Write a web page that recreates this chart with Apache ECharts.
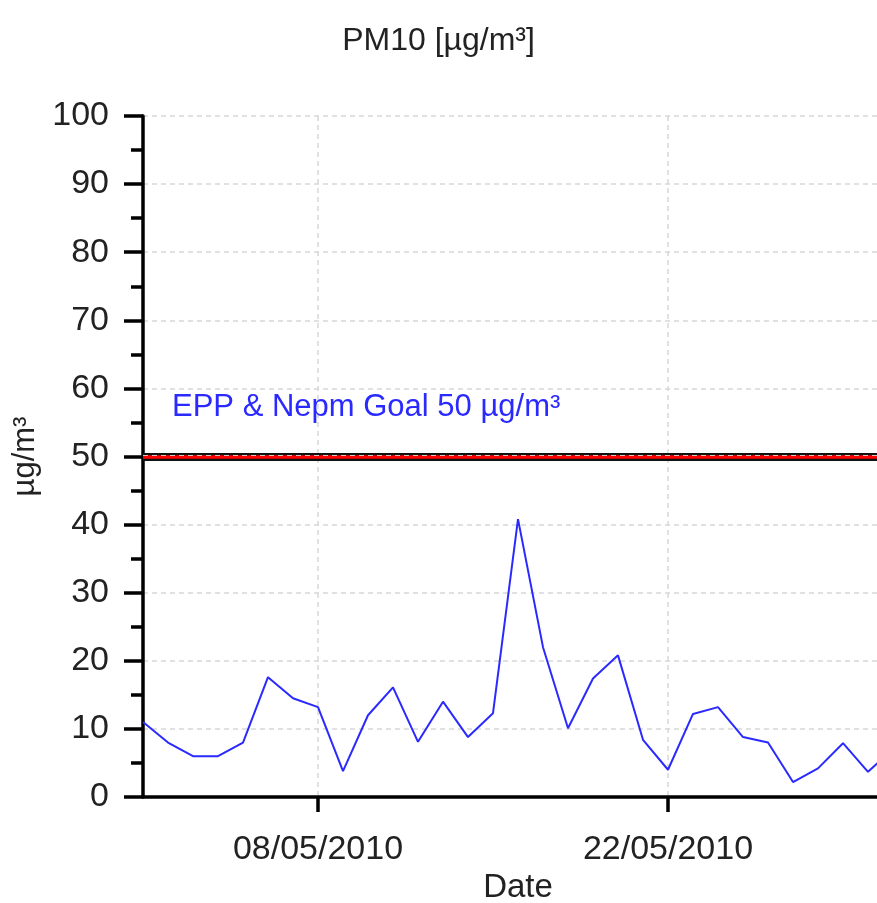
<!DOCTYPE html>
<html>
<head>
<meta charset="utf-8">
<script src="https://cdn.jsdelivr.net/npm/echarts@6/dist/echarts.min.js"></script>
<style>html,body{margin:0;padding:0;background:#fff;overflow:hidden;}#c{width:877px;height:903px;}</style>
</head>
<body>
<div id="c"></div>
<script>
const dates = ["01/05/2010","02/05/2010","03/05/2010","04/05/2010","05/05/2010","06/05/2010","07/05/2010","08/05/2010","09/05/2010","10/05/2010","11/05/2010","12/05/2010","13/05/2010","14/05/2010","15/05/2010","16/05/2010","17/05/2010","18/05/2010","19/05/2010","20/05/2010","21/05/2010","22/05/2010","23/05/2010","24/05/2010","25/05/2010","26/05/2010","27/05/2010","28/05/2010","29/05/2010","30/05/2010","31/05/2010"];
const pm10 = [11, 8, 6, 6, 8, 17.6, 14.5, 13.2, 3.8, 12, 16.1, 8.1, 14, 8.8, 12.3, 40.8, 22, 10.1, 17.4, 20.8, 8.4, 4.0, 12.2, 13.2, 8.8, 8, 2.2, 4.2, 7.9, 3.7, 7];
const shownDates = ["08/05/2010", "22/05/2010"];
const goalValue = 50;
const goalLabel = "EPP & Nepm Goal 50 µg/m³";
const yTicks = {min: 0, max: 100, interval: 10};

const font = "Liberation Sans, Arial, sans-serif";
const isShown = (i, v) => shownDates.indexOf(dates[i]) >= 0;
const chart = echarts.init(document.getElementById('c'));
chart.setOption({
  animation: false,
  backgroundColor: '#fff',
  title: {
    text: 'PM10 [µg/m³]', left: 'center', top: 20,
    textStyle: {fontFamily: font, fontWeight: 'normal', fontSize: 32, color: '#222'}
  },
  grid: {left: 143, top: 116, width: 750, bottom: 106, containLabel: false, outerBoundsMode: 'none'},
  xAxis: {
    type: 'category', data: dates, boundaryGap: false,
    name: 'Date', nameLocation: 'middle', nameGap: 74,
    nameTextStyle: {fontFamily: font, fontSize: 33, color: '#222'},
    axisLine: {lineStyle: {color: '#000', width: 3.5}},
    axisTick: {show: true, interval: isShown, length: 15, lineStyle: {color: '#000', width: 3.5}},
    axisLabel: {interval: isShown, margin: 36, fontFamily: font, fontSize: 34, color: '#222'},
    splitLine: {show: true, interval: isShown, lineStyle: {color: '#d8d8d8', type: [5, 4], width: 1.5}}
  },
  yAxis: {
    type: 'value', min: yTicks.min, max: yTicks.max, interval: yTicks.interval,
    name: 'µg/m³', nameLocation: 'middle', nameGap: 98, nameRotate: 90,
    nameTextStyle: {fontFamily: font, fontSize: 31, color: '#222'},
    axisLine: {show: true, lineStyle: {color: '#000', width: 3.5}},
    axisTick: {show: true, length: 19, lineStyle: {color: '#000', width: 3.5}},
    minorTick: {show: true, splitNumber: 2, length: 12, lineStyle: {color: '#000', width: 3.5}},
    axisLabel: {margin: 34, fontFamily: font, fontSize: 34, color: '#222'},
    splitLine: {show: true, lineStyle: {color: '#d8d8d8', type: [5, 4], width: 1.5}}
  },
  series: [{
    type: 'line', data: pm10, symbol: 'none', smooth: false,
    lineStyle: {color: '#2a2aff', width: 2},
    markLine: {
      silent: true, symbol: 'none',
      data: [
        {yAxis: goalValue, lineStyle: {color: '#111', width: 8, type: 'solid'}, label: {show: false}},
        {yAxis: goalValue, lineStyle: {color: '#ff0000', width: 3.5, type: 'solid'},
         label: {show: true, position: 'insideStartTop', distance: [29, 34], formatter: goalLabel,
                 fontFamily: font, fontSize: 31, color: '#2a2aff'}},
        {yAxis: goalValue + 0.25, lineStyle: {color: '#e0c0c0', width: 1, type: [5, 4]}, label: {show: false}}
      ]
    }
  }]
});
</script>
</body>
</html>
